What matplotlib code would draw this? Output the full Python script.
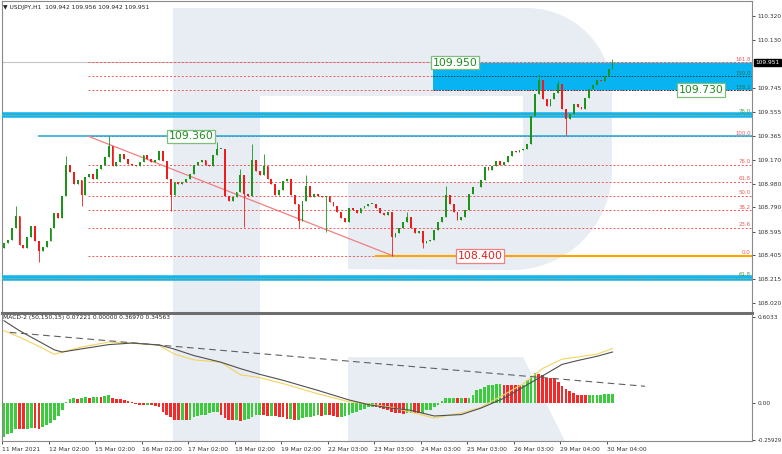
import numpy as np
import matplotlib.pyplot as plt
import matplotlib.transforms as mtransforms
from matplotlib.patches import Polygon, Rectangle

# ---- data (one bar = 2 hours) ----
closes = [108.50, 108.53, 108.62, 108.72, 108.49, 108.46, 108.55, 108.64, 108.52, 108.44,
          108.47, 108.52, 108.62, 108.74, 108.70, 108.88, 109.13, 109.07, 108.98, 109.01,
          108.89, 109.03, 109.06, 109.02, 109.10, 109.13, 109.19, 109.28, 109.12, 109.15,
          109.22, 109.18, 109.14, 109.13, 109.12, 109.15, 109.21, 109.18, 109.15, 109.17,
          109.24, 109.16, 109.02, 108.89, 108.99, 108.98, 108.99, 109.02, 109.06, 109.13,
          109.15, 109.17, 109.13, 109.12, 109.21, 109.26, 109.26, 108.88, 108.84, 108.87,
          108.91, 109.05, 108.90, 108.88, 109.17, 109.08, 109.05, 109.12, 109.02, 108.98,
          108.89, 108.93, 109.00, 109.02, 108.89, 108.82, 108.68, 108.84, 108.96, 108.87,
          108.90, 108.88, 108.87, 108.88, 108.83, 108.80, 108.75, 108.70, 108.67, 108.78,
          108.77, 108.74, 108.78, 108.80, 108.82, 108.82, 108.78, 108.74, 108.73, 108.75,
          108.55, 108.58, 108.62, 108.67, 108.71, 108.62, 108.58, 108.60, 108.50, 108.52,
          108.53, 108.61, 108.67, 108.71, 108.89, 108.82, 108.75, 108.69, 108.71, 108.77,
          108.90, 108.95, 108.95, 109.01, 109.11, 109.09, 109.12, 109.16, 109.13, 109.15,
          109.20, 109.24, 109.23, 109.25, 109.26, 109.30, 109.52, 109.70, 109.81, 109.66,
          109.60, 109.66, 109.71, 109.78, 109.58, 109.50, 109.54, 109.62, 109.59, 109.58,
          109.67, 109.74, 109.77, 109.81, 109.80, 109.84, 109.90, 109.95]
first_open = 108.46
wick_high = {3: 108.80, 16: 109.20, 27: 109.36, 55: 109.31, 61: 109.10, 64: 109.30,
             67: 109.22, 78: 109.05, 104: 108.75, 114: 108.96, 138: 109.86, 143: 109.80,
             157: 109.98}
wick_low = {9: 108.35, 20: 108.80, 43: 108.76, 62: 108.63, 76: 108.62, 83: 108.59,
            100: 108.40, 108: 108.46, 145: 109.37}

macd_hist = [-0.236, -0.22, -0.21, -0.18, -0.182, -0.185, -0.183, -0.176, -0.178, -0.18,
             -0.17, -0.15, -0.14, -0.12, -0.09, -0.05, 0.01, 0.03, 0.035, 0.033,
             0.04, 0.042, 0.038, 0.042, 0.045, 0.044, 0.05, 0.056, 0.04, 0.033,
             0.03, 0.025, 0.015, 0.008, -0.005, -0.012, -0.014, -0.012, -0.015, -0.018,
             -0.03, -0.06, -0.08, -0.10, -0.115, -0.12, -0.12, -0.121, -0.115, -0.10,
             -0.09, -0.085, -0.08, -0.07, -0.065, -0.06, -0.08, -0.105, -0.115, -0.12,
             -0.12, -0.125, -0.12, -0.11, -0.10, -0.085, -0.08, -0.085, -0.09, -0.088,
             -0.09, -0.095, -0.10, -0.11, -0.11, -0.115, -0.115, -0.105, -0.10, -0.095,
             -0.09, -0.085, -0.087, -0.08, -0.085, -0.09, -0.095, -0.095, -0.09, -0.08,
             -0.07, -0.06, -0.05, -0.04, -0.03, -0.025, -0.03, -0.035, -0.04, -0.045,
             -0.06, -0.07, -0.072, -0.073, -0.07, -0.068, -0.069, -0.07, -0.068, -0.05,
             -0.045, -0.03, -0.01, 0.015, 0.035, 0.04, 0.04, 0.035, 0.036, 0.035,
             0.04, 0.06, 0.09, 0.10, 0.115, 0.126, 0.13, 0.133, 0.133, 0.131,
             0.13, 0.128, 0.126, 0.125, 0.13, 0.16, 0.19, 0.21, 0.205, 0.195,
             0.18, 0.178, 0.175, 0.15, 0.12, 0.10, 0.085, 0.075, 0.06, 0.056,
             0.055, 0.056, 0.056, 0.058, 0.06, 0.065, 0.066, 0.068]
macd_x = [0, 4, 9, 13, 15, 20, 27, 33, 40, 44, 49, 56, 61, 66, 72, 81, 89, 94, 100, 105,
          111, 118, 123, 129, 134, 139, 144, 148, 153, 157]
macd_main = [0.58, 0.51, 0.435, 0.375, 0.36, 0.382, 0.412, 0.423, 0.41, 0.38, 0.335, 0.288,
             0.243, 0.203, 0.161, 0.09, 0.023, -0.01, -0.035, -0.05, -0.09, -0.08, -0.035,
             0.035, 0.114, 0.193, 0.273, 0.30, 0.33, 0.36]
macd_signal = [0.51, 0.465, 0.40, 0.344, 0.36, 0.395, 0.43, 0.423, 0.407, 0.345, 0.305, 0.288,
               0.20, 0.18, 0.138, 0.066, 0.01, -0.005, -0.03, -0.062, -0.105, -0.068, -0.03,
               0.06, 0.137, 0.245, 0.31, 0.325, 0.345, 0.384]
macd_trend_x = [1.5, 165.4]
macd_trend_y = [0.498, 0.119]

date_pos = [-0.5, 11.5, 23.5, 35.5, 47.5, 59.5, 71.5, 83.5, 95.5, 107.5, 119.5, 131.5, 143.5, 155.5]
date_labels = ["11 Mar 2021", "12 Mar 02:00", "15 Mar 02:00", "16 Mar 02:00", "17 Mar 02:00",
               "18 Mar 02:00", "19 Mar 02:00", "22 Mar 03:00", "23 Mar 03:00", "24 Mar 03:00",
               "25 Mar 03:00", "26 Mar 03:00", "29 Mar 04:00", "30 Mar 04:00"]
price_ticks = [110.32, 110.13, 109.745, 109.555, 109.365, 109.17, 108.98, 108.79,
               108.595, 108.405, 108.215, 108.02]

fib_high, fib_low = 109.36, 108.40
fib_start, fib_end = 21.7, 100.4
fib_ratios = [0.0, 0.236, 0.382, 0.5, 0.618, 0.76, 1.0, 1.382, 1.5, 1.618]
fib_names = ["0.0", "23.6", "38.2", "50.0", "61.8", "76.0", "100.0", "138.2", "150.0", "161.8"]
zone_top, zone_bottom = 109.95, 109.73
band_levels = [109.53, 108.22]
band_names = ["76.0", "61.8"]
last_price = 109.951

x_left, x_right = -0.52, 193.0

# ---- figure ----
W, H = 782, 454
fig = plt.figure(figsize=(W / 100, H / 100), dpi=100)
fig.patch.set_facecolor("white")

# watermark in the background (pixel coords)
bg = fig.add_axes([0, 0, 1, 1], zorder=0)
bg.set_xlim(0, W)
bg.set_ylim(H, 0)
bg.axis("off")
wm = "#E8ECF3"
bg.add_patch(Rectangle((173, 8), 87, 433, color=wm, lw=0))
t1 = np.linspace(np.pi / 2, 0, 20)
t2 = np.linspace(0, -np.pi / 2, 20)
outer = [(260, 8)] + [(527 + 85 * np.cos(t), 93 - 85 * np.sin(t)) for t in t1] \
    + [(512 + 100 * np.cos(t), 170 - 100 * np.sin(t)) for t in t2] \
    + [(348, 269), (348, 182), (523, 182), (523, 96), (260, 96)]
bg.add_patch(Polygon(outer, closed=True, color=wm, lw=0))
bg.add_patch(Polygon([(348, 357), (523, 357), (565, 441), (348, 441)], closed=True, color=wm, lw=0))


def px_box(x0, y0, x1, y1):
    return [x0 / W, 1 - y1 / H, (x1 - x0) / W, (y1 - y0) / H]


ax1 = fig.add_axes(px_box(2, 0.5, 752, 312.5), zorder=1)
ax2 = fig.add_axes(px_box(2, 313.5, 752, 441), zorder=1)
for ax in (ax1, ax2):
    ax.set_facecolor("none")
    ax.set_xlim(x_left, x_right)
    ax.yaxis.tick_right()
    ax.tick_params(axis="y", labelsize=4.2, length=2.5, width=0.6, pad=1.5, colors="#333333")
    for s in ax.spines.values():
        s.set_color("#8a8a8a")
        s.set_linewidth(0.8)

ax1.set_ylim(107.946, 110.448)
ax2.set_ylim(-0.266, 0.631)

# ---- candles ----
n = len(closes)
xs = np.arange(n)
opens = [first_open] + closes[:-1]
for i in range(n):
    o, c = opens[i], closes[i]
    col = "#1A951A" if c >= o else "#F01C1C"
    hi = wick_high.get(i, max(o, c))
    lo = wick_low.get(i, min(o, c))
    ax1.vlines(i, lo, hi, color=col, lw=0.6, zorder=5)
    ax1.bar(i, max(abs(c - o), 0.006), bottom=min(o, c), width=0.48, color=col, lw=0, zorder=5)

# ---- levels & annotations ----
ax1.axhline(last_price, color="#c4c4c4", lw=0.8, zorder=1)
span = fib_high - fib_low
for r, name in zip(fib_ratios, fib_names):
    lvl = fib_low + r * span
    ax1.hlines(lvl, fib_start, x_right, color="#F05A5A", lw=0.7, linestyles=(0, (2, 2)), zorder=2)
    tc = "#2F6F4F" if name in ("138.2", "150.0") else "#F05A5A"
    ax1.text(x_right - 0.3, lvl + 0.005, name, fontsize=3.9, color=tc, ha="right", va="bottom", zorder=6)

ax1.add_patch(Rectangle((110.7, zone_bottom), x_right - 110.7, zone_top - zone_bottom,
                        color="#07B3F0", lw=0, zorder=3))
for r in (1.382, 1.5):
    ax1.hlines(fib_low + r * span, 110.7, x_right, color="#1b3b4b", lw=0.7,
               linestyles=(0, (1.5, 1.5)), zorder=4)

for lvl, name in zip(band_levels, band_names):
    ax1.axhline(lvl, color="#14B4EE", lw=4, zorder=3)
    ax1.axhline(lvl, color="#D8B040", lw=0.6, linestyle=(0, (1.5, 1.5)), zorder=4)
    ax1.text(x_right - 0.3, lvl + 0.008, name, fontsize=3.9, color="#3C9A3C", ha="right", va="bottom", zorder=6)

ax1.hlines(fib_high, 8.8, x_right, color="#1AA7D6", lw=1.1, zorder=3)
ax1.hlines(fib_low, 95.7, x_right, color="#FFA500", lw=1.5, zorder=3)
ax1.plot([fib_start, fib_end], [fib_high, fib_low], color="#F08080", lw=0.9, zorder=3)

green_box = dict(boxstyle="square,pad=0.15", fc="white", ec="#7CBF7C", lw=0.9)
red_box = dict(boxstyle="square,pad=0.15", fc="white", ec="#F08080", lw=0.9)
ax1.text(48.3, fib_high, "109.360", fontsize=7.8, color="#1E8C1E", ha="center", va="center", bbox=green_box, zorder=7)
ax1.text(116.4, zone_top, "109.950", fontsize=7.8, color="#1E8C1E", ha="center", va="center", bbox=green_box, zorder=7)
ax1.text(179.9, zone_bottom, "109.730", fontsize=7.8, color="#1E8C1E", ha="center", va="center", bbox=green_box, zorder=7)
ax1.text(122.8, fib_low, "108.400", fontsize=7.8, color="#E02020", ha="center", va="center", bbox=red_box, zorder=7)

ax1.set_yticks(price_ticks)
ax1.set_yticklabels(["%.3f" % v for v in price_ticks])
ax1.set_xticks([])
ax1.spines["bottom"].set_linewidth(2.2)
ax1.spines["bottom"].set_color("#6e6e6e")

trans = mtransforms.blended_transform_factory(ax1.transAxes, ax1.transData)
ax1.text(1.004, last_price, "%.3f" % last_price, transform=trans, fontsize=4.2, color="white",
         ha="left", va="center", bbox=dict(boxstyle="square,pad=0.25", fc="black", ec="black"), zorder=8)

fig.text(3 / W, 1 - 7 / H, "\u25BC USDJPY,H1  109.942 109.956 109.942 109.951", fontsize=4.3,
         color="#222222", ha="left", va="center")

# ---- MACD panel ----
hist = np.array(macd_hist)
prev = np.concatenate([[hist[0]], hist[:-1]])
hcols = np.where(hist >= prev, "#3CCB3C", "#F42A2A")
ax2.bar(xs, hist, width=0.72, color=hcols, lw=0, zorder=3)
ax2.plot(macd_x, macd_signal, color="#F2D45C", lw=0.8, zorder=4)
ax2.plot(macd_x, macd_main, color="#505050", lw=0.8, zorder=4)
ax2.plot(macd_trend_x, macd_trend_y, color="#606060", lw=0.8, dashes=(6, 4), zorder=4)
ax2.set_yticks([0.6033, 0.0, -0.25929])
ax2.set_yticklabels(["0.6033", "0.00", "-0.25929"])
ax2.get_yticklabels()[2].set_fontsize(3.9)
ax2.spines["top"].set_visible(False)
ax2.set_xticks(date_pos)
ax2.set_xticklabels(date_labels, ha="left", fontsize=4.3, color="#333333")
ax2.tick_params(axis="x", length=2.5, width=0.6, pad=2, colors="#333333")
fig.text(3 / W, 1 - 318 / H, "MACD-2 (50,150,15) 0.07221 0.00000 0.36970 0.34563", fontsize=4.3,
         color="#222222", ha="left", va="center")

fig.savefig("out.png", dpi=100)
